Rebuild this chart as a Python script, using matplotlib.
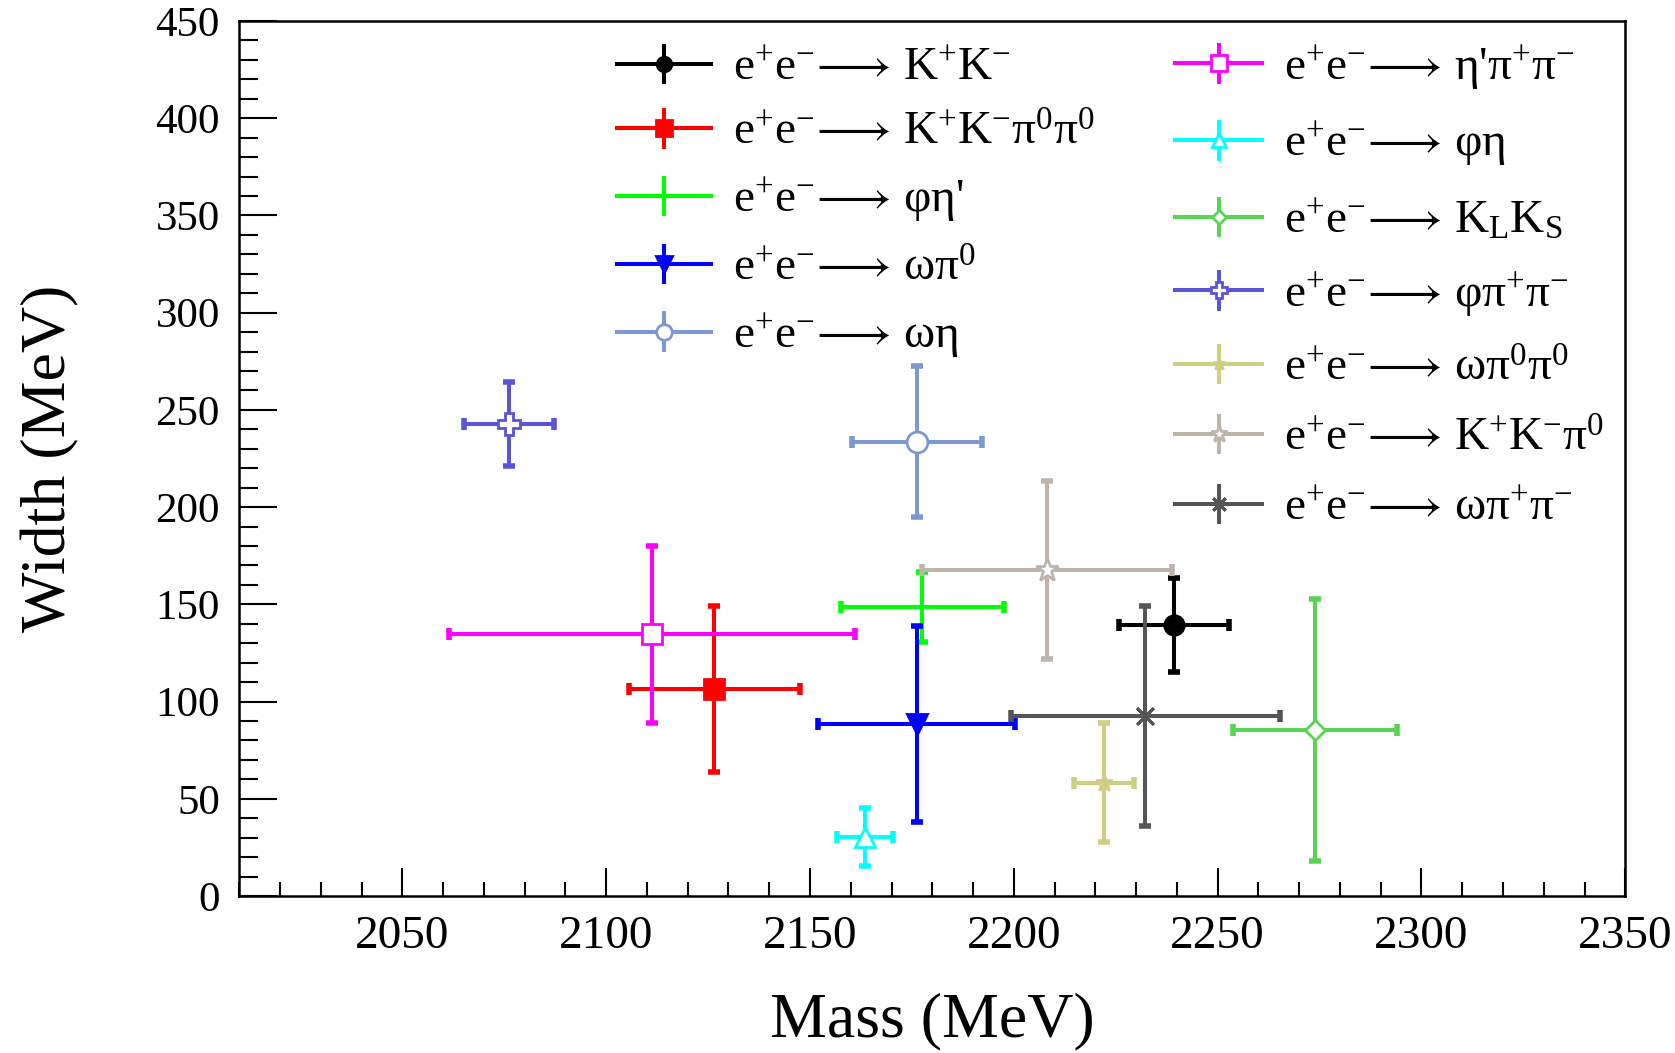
import matplotlib
matplotlib.use('Agg')
import matplotlib.pyplot as plt
from matplotlib.lines import Line2D
from matplotlib.legend_handler import HandlerBase
from matplotlib.ticker import MultipleLocator

plt.rcParams['font.family'] = ['Liberation Serif', 'DejaVu Sans']
plt.rcParams['mathtext.fontset'] = 'custom'
plt.rcParams['mathtext.rm'] = 'Liberation Serif'
plt.rcParams['mathtext.it'] = 'Liberation Serif:italic'
plt.rcParams['mathtext.fallback'] = 'stix'

# channel labels, mass (MeV) +- error, width (MeV) +- error
ee = r'e$^{+}$e$^{-}\!\longrightarrow\,$'
labels = [ee + r'K$^{+}$K$^{-}$',
          ee + r'K$^{+}$K$^{-}$π$^{0}$π$^{0}$',
          ee + r"φη'",
          ee + r'ωπ$^{0}$',
          ee + r'ωη',
          ee + r"η'π$^{+}$π$^{-}$",
          ee + r'φη',
          ee + r'K$_{\mathrm{L}}$K$_{\mathrm{S}}$',
          ee + r'φπ$^{+}$π$^{-}$',
          ee + r'ωπ$^{0}$π$^{0}$',
          ee + r'K$^{+}$K$^{-}$π$^{0}$',
          ee + r'ωπ$^{+}$π$^{-}$']
mass = [2239.3, 2126.5, 2177.5, 2176.2, 2176.2, 2111.2,
        2163.5, 2273.8, 2076.2, 2222.1, 2208.1, 2232.2]
mass_err = [13.5, 21.0, 20.0, 24.2, 16.0, 49.8,
            6.9, 20.1, 11.0, 7.4, 30.7, 33.0]
width = [139.4, 106.3, 148.8, 88.5, 233.7, 134.6,
         30.5, 85.4, 242.7, 58.3, 167.7, 92.6]
width_err = [24.2, 42.6, 18.0, 50.4, 39.0, 45.4,
             15.0, 67.3, 21.5, 30.7, 45.8, 56.7]

colors = ['#000000', '#ff0000', '#00ff00', '#0000ff', '#7d99d1', '#ff00ff',
          '#00ffff', '#59d454', '#5954d8', '#cfcf82', '#bdb4aa', '#555555']
markers = ['o', 's', 'None', 'v', 'o', 's', '^', 'D', 'P', '*', '*', (8, 2, 0)]
faces = ['full', 'full', 'full', 'full', 'white', 'white',
         'white', 'white', 'white', 'full', 'white', 'full']
msizes = [14, 15, 1, 15, 15, 15, 14, 10, 16, 12, 17, 17]


class LepHandler(HandlerBase):
    def create_artists(self, legend, orig, xdescent, ydescent, width, height,
                       fontsize, trans):
        x0 = -xdescent
        x1 = x0 + width
        yc = -ydescent + height / 2
        xc = (x0 + x1) / 2
        c = orig.get_color()
        lw = orig.get_linewidth()
        hl = Line2D([x0, x1], [yc, yc], color=c, lw=lw)
        vl = Line2D([xc, xc], [yc - 0.55 * height, yc + 0.55 * height], color=c, lw=lw)
        mk = Line2D([xc], [yc], marker=orig.get_marker(), ms=0.75 * orig.get_markersize(),
                    mfc=orig.get_markerfacecolor(), mec=c,
                    mew=orig.get_markeredgewidth(), linestyle='none')
        for a in (hl, vl, mk):
            a.set_transform(trans)
        return [hl, vl, mk]


fig = plt.figure(figsize=(16.75, 10.53), dpi=100, facecolor='white')
ax = fig.add_axes([239.3 / 1675, 1 - 896 / 1053, 1386 / 1675, 875 / 1053])

handles = []
for i in range(len(labels)):
    mfc = 'white' if faces[i] == 'white' else colors[i]
    ax.errorbar(mass[i], width[i], xerr=mass_err[i], yerr=width_err[i],
                fmt='none', ecolor=colors[i], elinewidth=2.9,
                capsize=4, capthick=4, zorder=2)
    if markers[i] != 'None':
        ax.plot(mass[i], width[i], linestyle='none', marker=markers[i],
                ms=msizes[i], mfc=mfc, mec=colors[i], mew=2, zorder=3)
    handles.append(Line2D([], [], color=colors[i], lw=2.9, marker=markers[i],
                          ms=msizes[i], mfc=mfc, mec=colors[i], mew=2))

ax.set_xlim(2010, 2350)
ax.set_ylim(0, 450)
ax.xaxis.set_major_locator(MultipleLocator(50))
ax.xaxis.set_minor_locator(MultipleLocator(10))
ax.yaxis.set_major_locator(MultipleLocator(50))
ax.yaxis.set_minor_locator(MultipleLocator(10))
ax.tick_params(which='both', direction='in', top=False, right=False, width=1.5)
ax.tick_params(axis='x', which='major', length=20, pad=14, labelsize=34)
ax.tick_params(axis='x', which='minor', length=10)
ax.tick_params(axis='y', which='major', length=27, pad=14, labelsize=31)
ax.tick_params(axis='y', which='minor', length=14)
ax.set_xticks([2050, 2100, 2150, 2200, 2250, 2300, 2350])
for s in ax.spines.values():
    s.set_linewidth(1.8)

ax.set_xlabel('Mass (MeV)', fontsize=46)
ax.set_ylabel('Width (MeV)', fontsize=46)
ax.xaxis.set_label_coords(0.5, -0.11)
ax.yaxis.set_label_coords(-0.115, 0.5)

hmap = {h: LepHandler() for h in handles}
leg1 = fig.legend(handles[:5], labels[:5], handler_map=hmap, loc='upper left',
                  bbox_to_anchor=(617 / 1675, 1 - 47.5 / 1053), frameon=False,
                  fontsize=34, handlelength=2.0, handletextpad=0.45,
                  labelspacing=0.45, borderpad=0, borderaxespad=0)
leg2 = fig.legend(handles[5:], labels[5:], handler_map=hmap, loc='upper left',
                  bbox_to_anchor=(1175 / 1675, 1 - 43.5 / 1053), frameon=False,
                  fontsize=34, handlelength=1.85, handletextpad=0.45,
                  labelspacing=0.57, borderpad=0, borderaxespad=0)

plt.savefig('out.png', dpi=100, facecolor='white')
